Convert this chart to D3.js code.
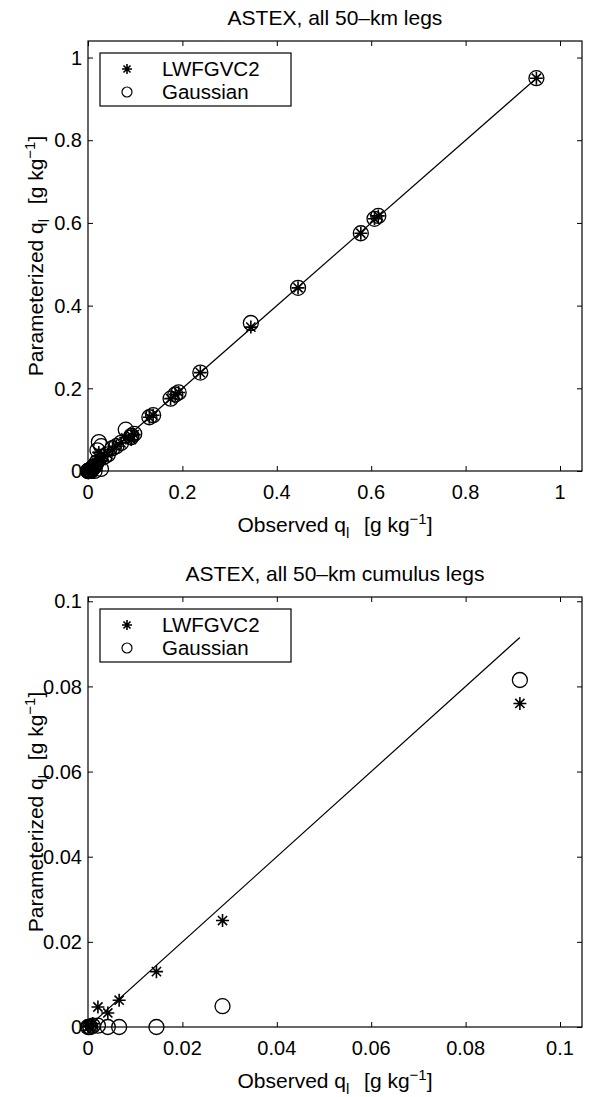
<!DOCTYPE html>
<html><head><meta charset="utf-8">
<script src="https://cdn.jsdelivr.net/npm/d3@7"></script>
<style>body{margin:0;background:#fff}svg text{font-family:"Liberation Sans",Arial,Helvetica,sans-serif;fill:#000}</style>
</head><body>
<script>
// ---- data ----
const topTitle = "ASTEX, all 50\u2013km legs";
const cuTitle = "ASTEX, all 50\u2013km cumulus legs";
const seriesNames = ["LWFGVC2", "Gaussian"];
const topXTicks = [0, 0.2, 0.4, 0.6, 0.8, 1];
const topYTicks = [0, 0.2, 0.4, 0.6, 0.8, 1];
const cuXTicks = [0, 0.02, 0.04, 0.06, 0.08, 0.1];
const cuYTicks = [0, 0.02, 0.04, 0.06, 0.08, 0.1];
const topObs   = [0.95,0.615,0.607,0.578,0.445,0.345,0.238,0.192,0.185,0.175,0.138,0.130,0.098,0.092,0.080,0.070,0.060,0.052,0.042,0.035,0.028,0.023,0.020,0.018,0.015,0.012,0.010,0.008,0.005,0.004,0.003,0.002,0.001,0.0,0.0,0.0915,0.0275,0.014,0.0063,0.0037,0.0018];
const topLwf   = [0.95,0.617,0.610,0.575,0.443,0.348,0.238,0.190,0.185,0.175,0.135,0.130,0.088,0.085,0.080,0.068,0.060,0.052,0.040,0.035,0.030,0.045,0.035,0.020,0.015,0.012,0.010,0.008,0.005,0.004,0.003,0.002,0.001,0.0,0.002,0.076,0.025,0.013,0.0062,0.0033,0.0046];
const topGauss = [0.95,0.617,0.610,0.575,0.443,0.358,0.238,0.190,0.185,0.175,0.135,0.130,0.090,0.085,0.100,0.068,0.060,0.055,0.040,0.035,0.060,0.070,0.050,0.020,0.012,0.010,0.008,0.005,0.003,0.002,0.001,0.0,0.0,0.0,0.0,0.0815,0.005,0.0003,0.0002,0.0002,0.0005];
const cuObs   = [0.0915,0.0285,0.0145,0.0066,0.0042,0.0021,0.0010,0.0005,0.0002,0.0];
const cuLwf   = [0.076,0.025,0.013,0.0063,0.0033,0.0047,0.0008,0.0003,0.0001,0.0];
const cuGauss = [0.0815,0.0049,0.0,0.0,0.0,0.0003,0.0003,0.0,0.0,0.0];

const svg = d3.select("body").append("svg").attr("width",613).attr("height",1097);

function star(r){const d=r*0.7071;return `M${-r},0L${r},0M0,${-r}L0,${r}M${-d},${-d}L${d},${d}M${-d},${d}L${d},${-d}`;}

function panel(o){
  const g = svg.append("g");
  const x = d3.scaleLinear().domain([0,o.xmax]).range([o.left,o.right]);
  const y = d3.scaleLinear().domain([0,o.ymax]).range([o.bottom,o.top]);
  const tl = 5;
  g.append("g").attr("transform",`translate(0,${o.bottom})`)
    .call(d3.axisBottom(x).tickValues(o.xTicks).tickSize(-tl).tickFormat(""))
    .call(a=>a.select(".domain").remove());
  g.append("g").attr("transform",`translate(0,${o.top})`)
    .call(d3.axisTop(x).tickValues(o.xTicks).tickSize(-tl).tickFormat(""))
    .call(a=>a.select(".domain").remove());
  g.append("g").attr("transform",`translate(${o.left},0)`)
    .call(d3.axisLeft(y).tickValues(o.yTicks).tickSize(-tl).tickFormat(""))
    .call(a=>a.select(".domain").remove());
  g.append("g").attr("transform",`translate(${o.right},0)`)
    .call(d3.axisRight(y).tickValues(o.yTicks).tickSize(-tl).tickFormat(""))
    .call(a=>a.select(".domain").remove());
  g.selectAll(".tick line").attr("stroke","#000").attr("stroke-width",1);
  const fmt = d3.format("~g");
  g.selectAll(".xl").data(o.xTicks).join("text")
    .attr("x",d=>x(d)).attr("y",o.bottom+28).attr("text-anchor","middle")
    .attr("font-size",20).text(fmt);
  g.selectAll(".yl").data(o.yTicks).join("text")
    .attr("x",o.left-6).attr("y",d=>y(d)).attr("dy","0.36em").attr("text-anchor","end")
    .attr("font-size",20).text(fmt);
  g.append("rect").attr("x",o.left).attr("y",o.top).attr("width",o.right-o.left).attr("height",o.bottom-o.top)
    .attr("fill","none").attr("stroke","#000").attr("stroke-width",1.2);
  const lmax = d3.max(o.obs);
  g.append("line").attr("x1",x(0)).attr("y1",y(0)).attr("x2",x(lmax)).attr("y2",y(lmax))
    .attr("stroke","#000").attr("stroke-width",1.2);
  const pts = o.obs.map((v,i)=>({o:v,l:o.lwf[i],g:o.gauss[i]}));
  g.selectAll(".c").data(pts).join("circle")
    .attr("cx",d=>x(d.o)).attr("cy",d=>y(d.g)).attr("r",7.5)
    .attr("fill","none").attr("stroke","#000").attr("stroke-width",1.3);
  g.selectAll(".s").data(pts).join("path")
    .attr("transform",d=>`translate(${x(d.o)},${y(d.l)})`).attr("d",star(6.5))
    .attr("stroke","#000").attr("stroke-width",1.6).attr("fill","none");
  g.append("text").attr("x",(o.left+o.right)/2).attr("y",o.top-16).attr("text-anchor","middle")
    .attr("font-size",21).text(o.title);
  const xl = g.append("text").attr("x",(o.left+o.right)/2).attr("y",o.bottom+61).attr("text-anchor","middle").attr("font-size",21);
  xl.append("tspan").text("Observed q");
  xl.append("tspan").attr("font-size",15).attr("dy",6).text("l");
  xl.append("tspan").attr("dy",-6).text("\u2002\u2009[g kg");
  xl.append("tspan").attr("font-size",15).attr("dy",-8).text("\u22121");
  xl.append("tspan").attr("dy",8).text("]");
  const cy = (o.top+o.bottom)/2;
  const yl = g.append("text").attr("transform",`translate(43,${cy}) rotate(-90)`).attr("text-anchor","middle").attr("font-size",21);
  yl.append("tspan").text("Parameterized q");
  yl.append("tspan").attr("font-size",15).attr("dy",6).text("l");
  yl.append("tspan").attr("dy",-6).text("\u2002\u2009[g kg");
  yl.append("tspan").attr("font-size",15).attr("dy",-8).text("\u22121");
  yl.append("tspan").attr("dy",8).text("]");
  const lx = o.left+12, ly = o.top+12;
  g.append("rect").attr("x",lx).attr("y",ly).attr("width",191).attr("height",53)
    .attr("fill","#fff").attr("stroke","#000").attr("stroke-width",1.2);
  g.append("path").attr("transform",`translate(${lx+27},${ly+16})`).attr("d",star(5))
    .attr("stroke","#000").attr("stroke-width",1.6);
  g.append("circle").attr("cx",lx+27).attr("cy",ly+39).attr("r",5).attr("fill","none").attr("stroke","#000").attr("stroke-width",1.2);
  g.selectAll(".lt").data(seriesNames).join("text")
    .attr("x",lx+62).attr("y",(d,i)=>ly+16+i*23).attr("dy","0.36em").attr("font-size",20.5).text(d=>d);
}

panel({left:88,right:582,top:41,bottom:471,xmax:1.0466,ymax:1.04,xTicks:topXTicks,yTicks:topYTicks,
  obs:topObs,lwf:topLwf,gauss:topGauss,title:topTitle});
panel({left:88,right:582,top:597,bottom:1027,xmax:0.10466,ymax:0.101,xTicks:cuXTicks,yTicks:cuYTicks,
  obs:cuObs,lwf:cuLwf,gauss:cuGauss,title:cuTitle});
</script>
</body></html>
